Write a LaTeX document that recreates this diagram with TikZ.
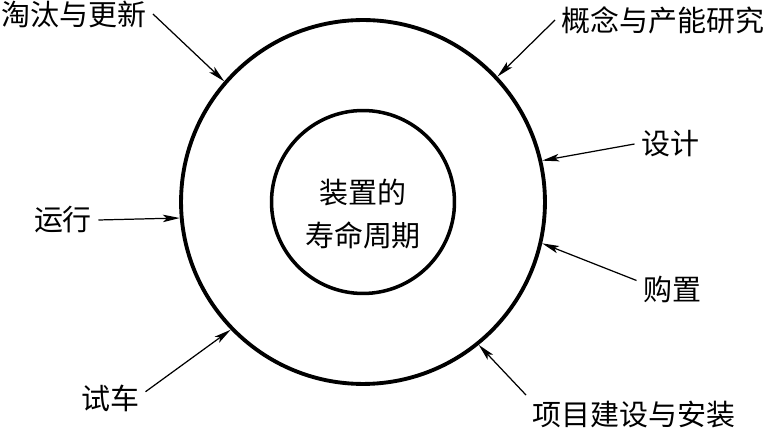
\documentclass[tikz,border=0pt]{standalone}
\usepackage{fontspec}
\newfontfamily\cjk{Noto Sans CJK SC}
\usepackage{tikz}
\usetikzlibrary{arrows.meta}

\begin{document}
\begin{tikzpicture}[
  x=0.02cm, y=-0.02cm,
  ring/.style={circle, draw, line width=2.2pt, inner sep=0pt},
  stage/.style={font=\cjk\fontsize{16.5}{18}\selectfont, inner sep=3.5pt},
  arrow/.style={-{Stealth[length=3.4mm, width=1.5mm, inset=0.8mm]}, line width=0.7pt},
]
\useasboundingbox (0,0) rectangle (768,431);

% Life-cycle rings
\node[ring, minimum size=7.28cm] at (363,202) (outer) {};
\node[ring, minimum size=3.66cm, line width=2pt] at (363,202) (inner) {};
\node[stage, align=center, font=\cjk\fontsize{16.5}{24.5}\selectfont] at (363,214) (life) {装置的\\寿命周期};

% Stages round the outer ring
\node[stage] at (74,14)   (retire)  {淘汰与更新};
\node[stage] at (663,20)  (concept) {概念与产能研究};
\node[stage] at (670,144) (design)  {设计};
\node[stage] at (63,220)  (operate) {运行};
\node[stage] at (672,290) (purchase){购置};
\node[stage] at (110,398) (trial)   {试车};
\node[stage] at (634,415) (build)   {项目建设与安装};

% Arrows onto the ring
\draw[arrow] (retire.east)        -- (outer.139);
\draw[arrow] (concept.west)       -- (outer.43);
\draw[arrow] (design.west)        -- (outer.13);
\draw[arrow] (operate.east)       -- (outer.185);
\draw[arrow] (purchase.165)       -- (outer.-13);
\draw[arrow] (trial.10)           -- (outer.224);
\draw[arrow] (build.north west)   -- (outer.-51);
\end{tikzpicture}
\end{document}
